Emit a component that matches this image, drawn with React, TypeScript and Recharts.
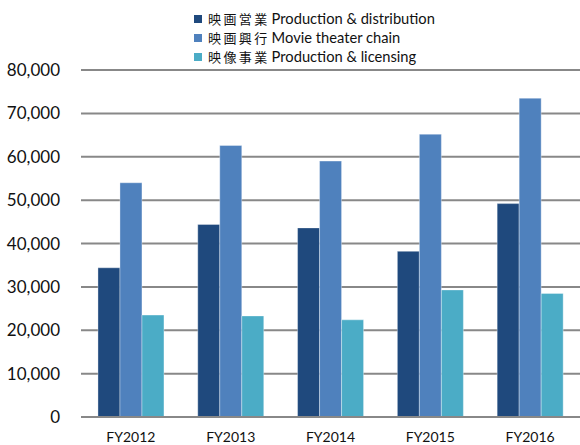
import { Bar, BarChart, CartesianGrid, Legend, XAxis, YAxis } from "recharts";

const years = ["FY2012", "FY2013", "FY2014", "FY2015", "FY2016"];
const distribution = [34400, 44400, 43600, 38200, 49200];
const theater = [54000, 62600, 59000, 65200, 73500];
const licensing = [23500, 23300, 22400, 29300, 28500];
const yTicks = [0, 10000, 20000, 30000, 40000, 50000, 60000, 70000, 80000];

const series = [
  { key: "distribution", jp: "映画営業", en: "Production & distribution", color: "#1f497d" },
  { key: "theater", jp: "映画興行", en: "Movie theater chain", color: "#4f81bd" },
  { key: "licensing", jp: "映像事業", en: "Production & licensing", color: "#4bacc6" }
];

const data = years.map((year, i) => ({
  year,
  distribution: distribution[i],
  theater: theater[i],
  licensing: licensing[i]
}));

const LegendBox = () => (
  <div>
    {series.map((s) => (
      <div key={s.key} style={{ display: "flex", alignItems: "center", height: 19 }}>
        <span style={{ width: 8, height: 8, background: s.color, marginRight: 6, display: "inline-block" }} />
        <span
          style={{ fontFamily: "Noto Sans CJK JP", fontSize: 13, letterSpacing: 2.4, lineHeight: "17px", color: "#111" }}
        >
          {s.jp}
        </span>
        <span style={{ fontFamily: "Lato, sans-serif", fontSize: 14.7, lineHeight: "17px", color: "#111", marginLeft: 2 }}>
          {s.en}
        </span>
      </div>
    ))}
  </div>
);

export default function App() {
  return (
    <div style={{ position: "absolute", left: 0, top: 0 }}>
      <BarChart
        width={580}
        height={445}
        data={data}
        margin={{ top: 70, right: 0, left: 0, bottom: 0 }}
        barCategoryGap="17%"
        barGap={0}
      >
        <CartesianGrid vertical={false} stroke="#888" strokeWidth={2} />
        <XAxis
          dataKey="year"
          height={28}
          tickSize={0}
          tickMargin={15}
          axisLine={{ stroke: "#888", strokeWidth: 2 }}
          tick={{ fill: "#111", fontSize: 14, fontFamily: "Lato, sans-serif" }}
        />
        <YAxis
          width={81}
          domain={[0, 80000]}
          ticks={yTicks}
          interval={0}
          axisLine={false}
          tickSize={0}
          tickMargin={21}
          tickFormatter={(v) => v.toLocaleString("en-US")}
          tick={{ fill: "#111", fontSize: 17, fontFamily: "Lato, sans-serif" }}
        />
        <Legend
          layout="vertical"
          verticalAlign="middle"
          align="center"
          content={() => <LegendBox />}
          wrapperStyle={{ top: 9, left: 194, width: 300 }}
        />
        {series.map((s) => (
          <Bar
            key={s.key}
            dataKey={s.key}
            fill={s.color}
            stroke="rgba(255,255,255,0.35)"
            strokeWidth={1}
            isAnimationActive={false}
          />
        ))}
      </BarChart>
    </div>
  );
}
